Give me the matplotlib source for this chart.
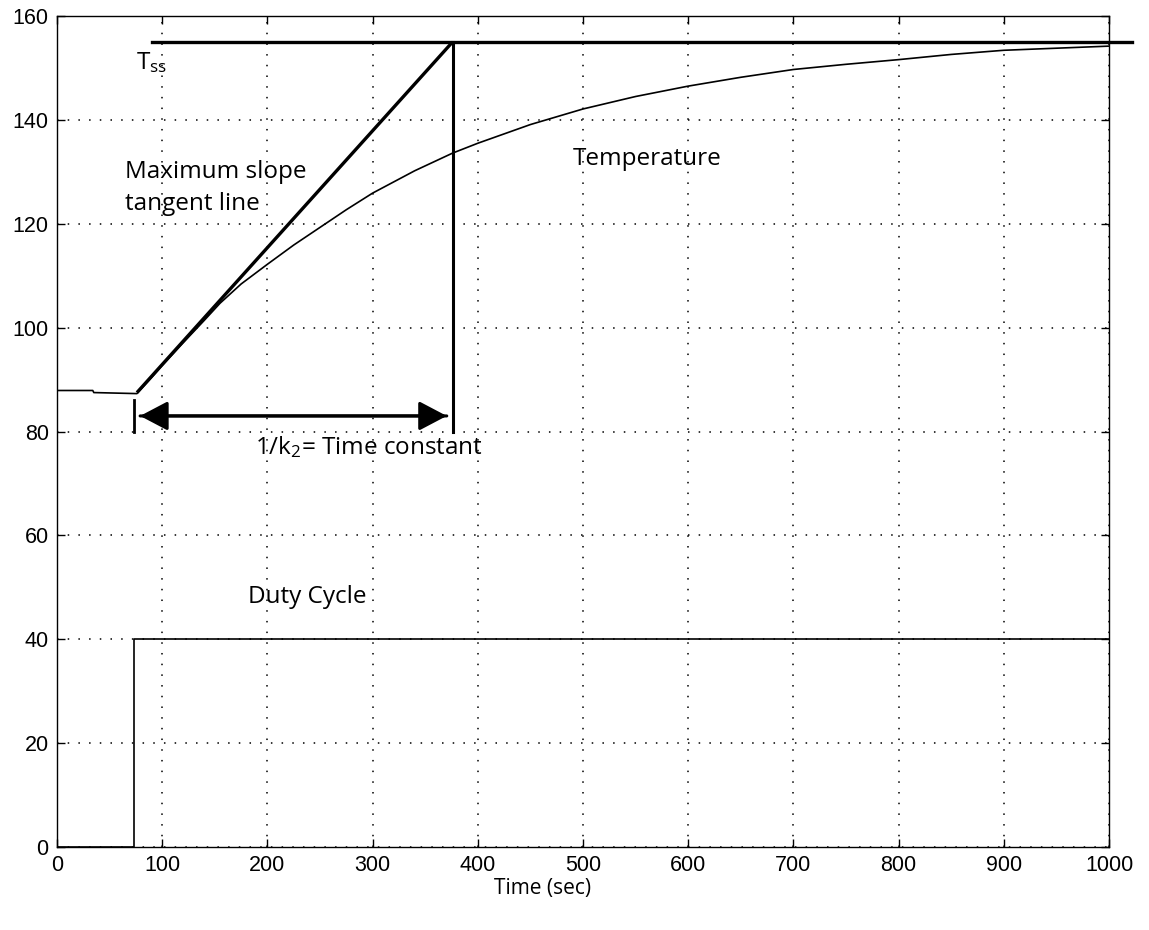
import matplotlib
matplotlib.use("Agg")
import matplotlib.pyplot as plt
from matplotlib.patches import FancyArrowPatch

# Temperature response
time = [0, 34, 35, 76, 90, 100, 120, 140, 155, 175, 200, 225, 250, 275, 300,
        340, 376, 400, 450, 500, 550, 600, 650, 700, 750, 800, 850, 900, 950, 1000]
temperature = [87.9, 87.9, 87.5, 87.3, 90.4, 92.7, 97.1, 101.4, 104.7, 108.4, 112.2,
               115.9, 119.3, 122.7, 125.9, 130.2, 133.6, 135.5, 139.1, 142.1, 144.5,
               146.5, 148.2, 149.7, 150.7, 151.6, 152.6, 153.4, 153.8, 154.2]

# Duty cycle step
duty_time = [0, 73, 73, 1000]
duty = [0, 0, 40, 40]

# Construction lines
t_ss = 155
tss_x = [90, 1022]
tangent_x = [76, 376]
tangent_y = [87.5, 155]
tau_start = 73
tau_end = 376
arrow_x = [79, 370.5]
arrow_y = 83

plt.rcParams['font.family'] = ['Liberation Sans', 'DejaVu Sans']
plt.rcParams['mathtext.fontset'] = 'custom'
plt.rcParams['mathtext.rm'] = 'Open Sans'
plt.rcParams['mathtext.it'] = 'Open Sans'

fig = plt.figure(figsize=(11.49, 9.30), dpi=100)
ax = fig.add_axes([0.0496, 0.0892, 0.9156, 0.8936])

ax.plot(time, temperature, color="black", lw=1.2)
ax.plot(duty_time, duty, color="black", lw=1.2)

# steady state line (runs past the right edge)
ax.plot(tss_x, [t_ss, t_ss], color="black", lw=2.4, clip_on=False)
# maximum slope tangent
ax.plot(tangent_x, tangent_y, color="black", lw=2.4, solid_capstyle="butt")
ax.plot([tau_end, tau_end], [80, t_ss], color="black", lw=2.2)
ax.plot([tau_start, tau_start], [80, 86], color="black", lw=2.0)

style = "-|>,head_length=0.95,head_width=0.5"
for a, b in [(arrow_x[0], arrow_x[1]), (arrow_x[1], arrow_x[0])]:
    ax.add_patch(FancyArrowPatch((a, arrow_y), (b, arrow_y), arrowstyle=style,
                                 mutation_scale=18, color="black", lw=2.2,
                                 shrinkA=0, shrinkB=0))

txt = dict(fontfamily="Open Sans", fontsize=17.5, color="black")
ax.text(75, 151, r"T$_{\mathrm{ss}}$", va="center", ha="left", **txt)
ax.text(65, 132.3, "Maximum slope\ntangent line", va="top", ha="left",
        linespacing=1.45, **txt)
ax.text(490, 132.4, "Temperature", va="center", ha="left", **txt)
ax.text(188, 77, r"1/k$_{\mathrm{2}}$= Time constant", va="center", ha="left", **txt)
ax.text(181.5, 48.2, "Duty Cycle", va="center", ha="left", **txt)

ax.set_xlim(0, 1000)
ax.set_ylim(0, 160)
ax.set_xticks(range(0, 1001, 100))
ax.set_yticks(range(0, 161, 20))
ax.tick_params(direction="in", length=6, width=1, labelsize=15.5,
               top=True, right=True, pad=6)
ax.grid(True, color="black", linestyle=(0, (1, 6)), linewidth=1.1)
for s in ax.spines.values():
    s.set_linewidth(1.0)
ax.set_xlabel("Time (sec)", fontfamily="Open Sans", fontsize=15)
ax.xaxis.set_label_coords(0.462, -0.037)

fig.savefig("out.png", dpi=100)
